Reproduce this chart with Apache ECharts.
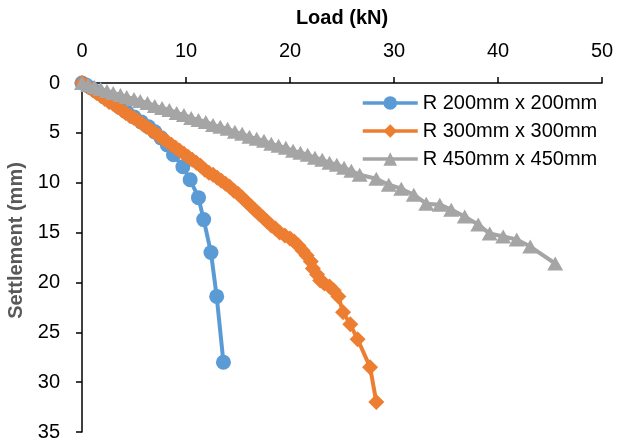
<!DOCTYPE html>
<html>
<head>
<meta charset="utf-8">
<script src="https://cdn.jsdelivr.net/npm/echarts@6/dist/echarts.min.js"></script>
<style>
  html, body { margin: 0; padding: 0; background: #fff; }
  #chart { width: 617px; height: 442px; }
</style>
</head>
<body>
<div id="chart"></div>
<script>
// 数据
var seriesNames = ['R 200mm x 200mm', 'R 300mm x 300mm', 'R 450mm x 450mm'];

var load200 = [0, 0.4, 0.9, 1.5, 2.2, 2.9, 3.6, 4.3, 5.0, 5.7, 6.4, 7.0, 7.6, 8.2, 8.8, 9.7, 10.4, 11.2, 11.7, 12.4, 12.95, 13.6];
var settle200 = [0, 0.2, 0.5, 0.9, 1.4, 1.9, 2.4, 2.9, 3.4, 3.9, 4.4, 4.9, 5.5, 6.2, 7.2, 8.4, 9.7, 11.5, 13.7, 17.0, 21.4, 28.0];

var load300 = [0, 0.3, 0.6, 1.0, 1.4, 1.8, 2.2, 2.6, 3.0, 3.4, 3.8, 4.2, 4.6, 5.0, 5.4, 5.8, 6.2, 6.6, 7.0, 7.4, 7.8, 8.2, 8.6, 9.0, 9.4, 9.8,
  10.2, 10.6, 11.0, 11.4, 11.8, 12.2, 12.6, 13.0, 13.4, 13.8, 14.2, 14.6, 15.0, 15.4, 15.8, 16.2, 16.6, 17.0, 17.4, 17.8, 18.2, 18.6,
  19.0, 19.5, 20.0, 20.4, 20.8, 21.2, 21.6, 22.0, 22.2, 22.6, 22.9, 23.3, 23.8, 24.2, 24.65, 25.1, 25.8, 26.5, 27.7, 28.3];
var settle300 = [0, 0.2, 0.4, 0.7, 1.0, 1.3, 1.6, 1.9, 2.1, 2.4, 2.7, 3.0, 3.3, 3.5, 3.8, 4.1, 4.4, 4.7, 5.0, 5.3, 5.6, 5.9, 6.2, 6.5, 6.8, 7.1,
  7.4, 7.7, 8.0, 8.3, 8.7, 9.0, 9.2, 9.5, 9.8, 10.1, 10.4, 10.8, 11.1, 11.5, 11.9, 12.3, 12.7, 13.1, 13.5, 13.9, 14.3, 14.6,
  15.0, 15.3, 15.6, 15.9, 16.3, 16.8, 17.3, 17.9, 18.6, 19.2, 19.8, 20.1, 20.4, 20.8, 21.4, 23.0, 24.2, 25.7, 28.5, 32.0];

var load450 = [0, 0.6, 1.2, 1.8, 2.4, 3.0, 3.7, 4.3, 5.0, 5.6, 6.3, 7.0, 7.7, 8.4, 9.1, 9.8, 10.5, 11.2, 11.9, 12.6, 13.3, 14.0, 14.7,
  15.4, 16.1, 16.8, 17.5, 18.2, 18.9, 19.6, 20.3, 21.0, 21.7, 22.4, 23.1, 23.8, 24.5, 25.2, 25.9, 26.7, 28.3, 29.5, 30.7, 31.9,
  33.1, 34.4, 35.5, 36.8, 38.1, 39.2, 40.5, 41.8, 43.1, 45.5];
var settle450 = [0, 0.2, 0.4, 0.6, 0.8, 1.0, 1.2, 1.4, 1.6, 1.8, 2.0, 2.3, 2.5, 2.7, 3.0, 3.2, 3.5, 3.7, 3.9, 4.2, 4.4, 4.6, 4.9,
  5.1, 5.4, 5.6, 5.8, 6.1, 6.3, 6.5, 6.8, 7.0, 7.2, 7.5, 7.7, 8.0, 8.2, 8.5, 8.8, 9.2, 9.6, 10.2, 10.6, 11.2,
  12.1, 12.2, 12.7, 13.4, 14.2, 15.1, 15.4, 15.7, 16.4, 18.1];

var xTicks = [0, 10, 20, 30, 40, 50];
var yTicks = [0, 5, 10, 15, 20, 25, 30, 35];

function pairs(xs, ys) {
  var out = [];
  for (var i = 0; i < xs.length; i++) out.push([xs[i], ys[i]]);
  return out;
}

var font = '"Liberation Sans", Arial, sans-serif';
var myChart = echarts.init(document.getElementById('chart'));

myChart.setOption({
  animation: false,
  color: ['#5B9BD5', '#ED7D31', '#A5A5A5'],
  textStyle: { fontFamily: font },
  grid: { left: 82, right: 15, top: 83, bottom: 10, containLabel: false, outerBoundsMode: 'none' },
  legend: {
    orient: 'vertical',
    left: 361,
    top: 93,
    padding: 0,
    itemWidth: 55,
    itemHeight: 17,
    itemGap: 8,
    lineStyle: { width: 3.5 },
    textStyle: { fontSize: 20, color: '#000', lineHeight: 20, fontFamily: font },
    data: seriesNames
  },
  xAxis: {
    type: 'value',
    position: 'top',
    min: xTicks[0],
    max: xTicks[xTicks.length - 1],
    interval: 10,
    name: 'Load (kN)',
    nameLocation: 'middle',
    nameGap: 55,
    nameTextStyle: { fontSize: 20, fontWeight: 'bold', color: '#000' },
    axisLine: { onZero: false, lineStyle: { color: '#000', width: 1.5 } },
    axisTick: { show: true, length: 6, lineStyle: { color: '#000', width: 1.5 } },
    axisLabel: { fontSize: 20, color: '#000', margin: 22 },
    splitLine: { show: false }
  },
  yAxis: {
    type: 'value',
    inverse: true,
    min: yTicks[0],
    max: yTicks[yTicks.length - 1],
    interval: 5,
    name: 'Settlement (mm)',
    nameLocation: 'middle',
    nameGap: 51,
    nameTextStyle: { fontSize: 20, fontWeight: 'bold', color: '#595959', padding: [0, 0, 0, 34] },
    axisLine: { onZero: false, lineStyle: { color: '#000', width: 1.5 } },
    axisTick: { show: true, length: 6, lineStyle: { color: '#000', width: 1.5 } },
    axisLabel: { fontSize: 20, color: '#000', margin: 22 },
    splitLine: { show: false }
  },
  series: [
    {
      name: seriesNames[0],
      type: 'line',
      data: pairs(load200, settle200),
      symbol: 'circle',
      symbolSize: 15,
      lineStyle: { width: 4 }
    },
    {
      name: seriesNames[1],
      type: 'line',
      data: pairs(load300, settle300),
      symbol: 'diamond',
      symbolSize: 16,
      lineStyle: { width: 4 }
    },
    {
      name: seriesNames[2],
      type: 'line',
      data: pairs(load450, settle450),
      symbol: 'triangle',
      symbolSize: [16, 14],
      lineStyle: { width: 4 }
    }
  ]
});
</script>
</body>
</html>
